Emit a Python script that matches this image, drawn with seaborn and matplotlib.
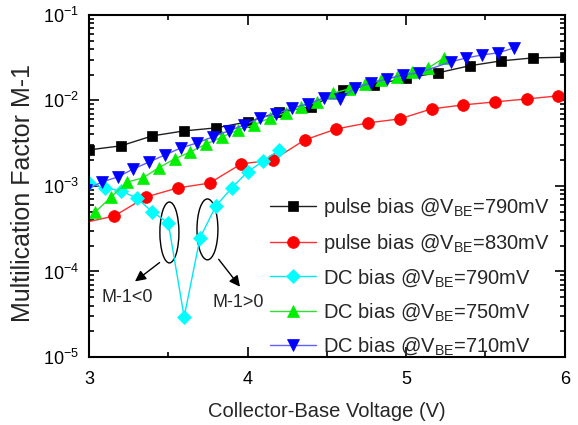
import matplotlib
matplotlib.use("Agg")
import matplotlib.pyplot as plt
import seaborn as sns
import numpy as np
from matplotlib.patches import Ellipse
from matplotlib.ticker import LogLocator, MultipleLocator

# pulse bias @ VBE = 790 mV
pulse790_v = [3.0, 3.2, 3.4, 3.6, 3.8, 4.0, 4.2, 4.4, 4.6, 4.8, 5.0, 5.2, 5.4, 5.6, 5.8, 6.0]
pulse790_m = [2.64e-3, 2.94e-3, 3.85e-3, 4.40e-3, 4.77e-3, 5.61e-3, 7.34e-3, 8.4e-3,
              1.33e-2, 1.52e-2, 1.83e-2, 2.10e-2, 2.54e-2, 2.90e-2, 3.14e-2, 3.2e-2]

# pulse bias @ VBE = 830 mV
pulse830_v = [2.96, 3.16, 3.36, 3.56, 3.76, 3.96, 4.16, 4.36, 4.56, 4.76, 4.96, 5.16,
              5.36, 5.56, 5.76, 5.96]
pulse830_m = [3.69e-4, 4.46e-4, 7.43e-4, 9.48e-4, 1.08e-3, 1.81e-3, 2.01e-3, 3.45e-3,
              4.64e-3, 5.46e-3, 6.08e-3, 7.96e-3, 8.86e-3, 9.60e-3, 1.04e-2, 1.13e-2]

# DC bias @ VBE = 790 mV (absolute value of M-1)
dc790_v = [3.0, 3.1, 3.2, 3.3, 3.4, 3.5, 3.6, 3.7, 3.8, 3.9, 4.0, 4.1, 4.2]
dc790_m = [1.08e-3, 9.48e-4, 8.75e-4, 7.24e-4, 4.97e-4, 3.69e-4, 2.94e-5, 2.47e-4,
           5.83e-4, 9.48e-4, 1.46e-3, 1.96e-3, 2.64e-3]

# DC bias @ VBE = 750 mV
dc750_v = [3.04, 3.14, 3.24, 3.34, 3.44, 3.54, 3.64, 3.74, 3.84, 3.94, 4.04, 4.14,
           4.24, 4.34, 4.44, 4.54, 4.64, 4.74, 4.84, 4.94, 5.04, 5.14, 5.24]
dc750_m = [4.97e-4, 7.43e-4, 1.11e-3, 1.24e-3, 1.63e-3, 2.07e-3, 2.50e-3, 3.10e-3,
           3.74e-3, 4.52e-3, 5.17e-3, 6.24e-3, 7.14e-3, 8.39e-3, 9.60e-3, 1.22e-2,
           1.36e-2, 1.56e-2, 1.74e-2, 1.88e-2, 2.16e-2, 2.40e-2, 3.14e-2]

# DC bias @ VBE = 710 mV
dc710_v = [2.98, 3.08, 3.18, 3.28, 3.38, 3.48, 3.58, 3.68, 3.78, 3.88, 3.98, 4.08,
           4.18, 4.28, 4.38, 4.48, 4.58, 4.68, 4.78, 4.88, 4.98, 5.08, 5.28, 5.38,
           5.48, 5.58, 5.68]
dc710_m = [8.97e-4, 1.11e-3, 1.27e-3, 1.58e-3, 1.91e-3, 2.31e-3, 2.78e-3, 3.18e-3,
           3.74e-3, 4.40e-3, 5.17e-3, 6.24e-3, 6.95e-3, 8.17e-3, 9.10e-3, 1.07e-2,
           1.04e-2, 1.40e-2, 1.60e-2, 1.78e-2, 1.99e-2, 2.10e-2, 2.82e-2, 3.14e-2,
           3.40e-2, 3.60e-2, 4.11e-2]

sns.set_theme(style="ticks")
plt.rcParams['font.family'] = ['Liberation Sans', 'DejaVu Sans']
plt.rcParams['mathtext.default'] = 'regular'
plt.rcParams['axes.unicode_minus'] = False

fig = plt.figure(figsize=(5.78, 4.25), dpi=100)
ax = fig.add_axes([0.154, 0.16, 0.823, 0.805])

series = [
    (pulse790_v, pulse790_m, 's', 'black', '#202020', 7.5, 'pulse bias @V$_{BE}$=790mV'),
    (pulse830_v, pulse830_m, 'o', 'red', '#ff3030', 8.5, 'pulse bias @V$_{BE}$=830mV'),
    (dc790_v, dc790_m, 'D', 'cyan', '#00e8f0', 7, 'DC bias @V$_{BE}$=790mV'),
    (dc750_v, dc750_m, '^', '#00ee00', '#30e030', 9, 'DC bias @V$_{BE}$=750mV'),
    (dc710_v, dc710_m, 'v', 'blue', '#6060ff', 9, 'DC bias @V$_{BE}$=710mV'),
]
for xs, ys, mk, mc, lc, ms, lab in series:
    sns.lineplot(x=xs, y=ys, ax=ax, color=lc, linewidth=1.0, marker=mk,
                 markersize=ms, markerfacecolor=mc, markeredgecolor=mc,
                 markeredgewidth=0.5, label=lab)

ax.set_yscale('log')
ax.set_xlim(3, 6)
ax.set_ylim(1e-5, 1e-1)
ax.xaxis.set_major_locator(MultipleLocator(1))
ax.xaxis.set_minor_locator(MultipleLocator(0.5))
ax.yaxis.set_major_locator(LogLocator(base=10, numticks=10))
ax.yaxis.set_minor_locator(LogLocator(base=10, subs=np.arange(2, 10), numticks=10))
ax.tick_params(which='both', direction='in', top=True, right=True, labelsize=13,
               width=1.2, colors='black')
ax.tick_params(which='major', length=7)
ax.tick_params(which='minor', length=3.5)
ax.tick_params(axis='x', which='major', pad=10)
ax.tick_params(axis='y', which='major', pad=7)
for sp in ax.spines.values():
    sp.set_linewidth(1.5)
    sp.set_color('black')

ax.set_xlabel('Collector-Base Voltage (V)', fontsize=14.5, labelpad=10)
ax.set_ylabel('Multilication Factor M-1', fontsize=18)
ax.yaxis.set_label_coords(-0.113, 0.48)

# ellipses and arrows marking the sign change of M-1
ax.add_patch(Ellipse((0.169, 0.364), 0.040, 0.178, transform=ax.transAxes,
                     fill=False, edgecolor='black', linewidth=1.0))
ax.add_patch(Ellipse((0.249, 0.373), 0.044, 0.178, transform=ax.transAxes,
                     fill=False, edgecolor='black', linewidth=1.0))
ax.annotate('', xy=(0.092, 0.216), xytext=(0.153, 0.281), xycoords='axes fraction',
            arrowprops=dict(arrowstyle='-|>', color='black', lw=1.0, mutation_scale=16))
ax.annotate('', xy=(0.321, 0.199), xytext=(0.269, 0.292), xycoords='axes fraction',
            arrowprops=dict(arrowstyle='-|>', color='black', lw=1.0, mutation_scale=16))
ax.text(0.080, 0.175, 'M-1<0', transform=ax.transAxes, fontsize=13,
        ha='center', va='center')
ax.text(0.313, 0.160, 'M-1>0', transform=ax.transAxes, fontsize=13,
        ha='center', va='center')

ax.legend(loc='lower left', bbox_to_anchor=(0.38, 0.0), frameon=False,
          fontsize=14.5, handlelength=2.3, handletextpad=0.35, labelspacing=0.62,
          borderpad=0, borderaxespad=0)

fig.savefig('out.png', dpi=100)
